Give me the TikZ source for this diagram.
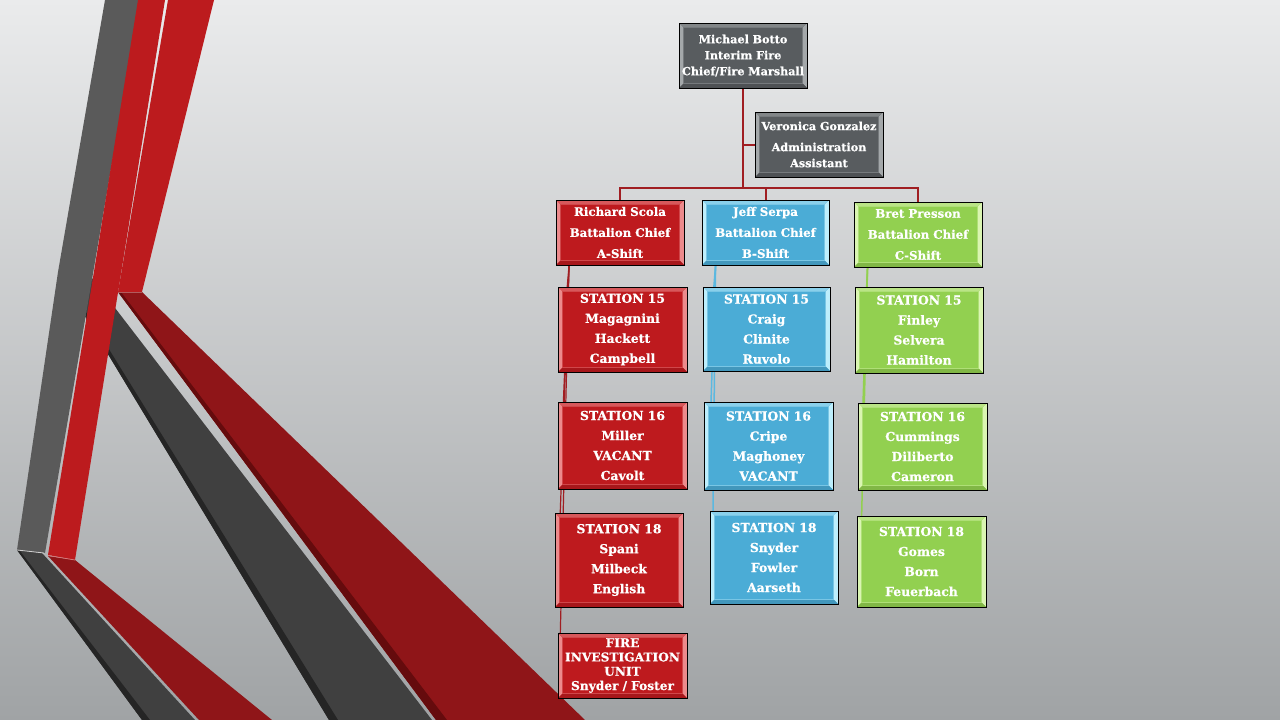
\documentclass[tikz,border=0pt]{standalone}
\usepackage{fontspec}
\setmainfont{DejaVu Serif}
\newfontfamily\heavyfont[FakeBold=0.6]{DejaVu Serif}
\definecolor{bgtop}{HTML}{EAEBEC}
\definecolor{bgbot}{HTML}{A0A3A5}
\definecolor{ribgrey}{HTML}{5A5A5A}
\definecolor{ribdark}{HTML}{404040}
\definecolor{ribshadow}{HTML}{252525}
\definecolor{ribred}{HTML}{BC1B1E}
\definecolor{ribdred}{HTML}{8F1518}
\definecolor{ribdshadow}{HTML}{650B0D}
\definecolor{boxgrey}{HTML}{585C5F}
\definecolor{boxgreyhi}{HTML}{A4A8AA}
\definecolor{boxred}{HTML}{BE1A1E}
\definecolor{boxredhi}{HTML}{EC8A8C}
\definecolor{boxblue}{HTML}{4BACD6}
\definecolor{boxbluehi}{HTML}{BDEEFC}
\definecolor{boxgreen}{HTML}{92D050}
\definecolor{boxgreenhi}{HTML}{DAF5B2}
\definecolor{linered}{HTML}{A01E22}
\definecolor{lineblue}{HTML}{5BB8E0}
\definecolor{linegreen}{HTML}{92D050}
\pgfdeclarelayer{back}
\pgfdeclarelayer{conn}
\pgfsetlayers{back,conn,main}
\tikzset{
  orgbox/.style 2 args={draw=black, line width=0.9pt, inner sep=0pt, text=white, align=center, fill=#1,
    path picture={
      \fill[#2] (path picture bounding box.north west) -- (path picture bounding box.south west)
        -- ([shift={(4.5pt,4.5pt)}]path picture bounding box.south west)
        -- ([shift={(4.5pt,-4.5pt)}]path picture bounding box.north west) -- cycle;
      \fill[#2] (path picture bounding box.north east) -- (path picture bounding box.south east)
        -- ([shift={(-4.5pt,4.5pt)}]path picture bounding box.south east)
        -- ([shift={(-4.5pt,-4.5pt)}]path picture bounding box.north east) -- cycle;
      \fill[#2!55!#1] (path picture bounding box.north west) -- (path picture bounding box.north east)
        -- ([shift={(-4.5pt,-4.5pt)}]path picture bounding box.north east)
        -- ([shift={(4.5pt,-4.5pt)}]path picture bounding box.north west) -- cycle;
      \fill[#1!88!black] (path picture bounding box.south west) -- (path picture bounding box.south east)
        -- ([shift={(-4.5pt,4.5pt)}]path picture bounding box.south east)
        -- ([shift={(4.5pt,4.5pt)}]path picture bounding box.south west) -- cycle;
      \draw[#2!40!#1, line width=0.5pt]
        ([shift={(4.5pt,-4.5pt)}]path picture bounding box.north west) rectangle
        ([shift={(-4.5pt,4.5pt)}]path picture bounding box.south east);}},
  greybox/.style={orgbox={boxgrey}{boxgreyhi}},
  redbox/.style={orgbox={boxred}{boxredhi}},
  bluebox/.style={orgbox={boxblue}{boxbluehi}},
  greenbox/.style={orgbox={boxgreen}{boxgreenhi}},
  sz/.style 2 args={text width=#1pt, minimum height=#2pt},
  fbot/.style={font=\fontsize{11.2}{16}\selectfont\heavyfont\bfseries},
  fbat/.style={font=\fontsize{11.8}{21}\selectfont\heavyfont\bfseries},
  fst/.style={font=\fontsize{12.4}{20}\selectfont\heavyfont\bfseries},
  ffiu/.style={font=\fontsize{12.2}{14.3}\selectfont\heavyfont\bfseries},
  bus/.style={draw=linered, line width=2pt},
  redline/.style={draw=linered, line width=1.2pt},
  blueline/.style={draw=lineblue, line width=1.5pt},
  greenline/.style={draw=linegreen, line width=1.5pt},
}
\begin{document}
\begin{tikzpicture}[x=1pt, y=-1pt]
\useasboundingbox (0,0) rectangle (1280,720);
\begin{pgfonlayer}{back}
  \fill[top color=bgtop, bottom color=bgbot] (0,0) rectangle (1280,720);
  \begin{scope}
    \clip (0,0) rectangle (1280,720);
    % middle dark grey band
    \fill[ribdark] (62,278) -- (92,278) -- (432,720) -- (329,720) -- cycle;
    \fill[ribshadow] (62,278) -- (65,278) -- (338,720) -- (329,720) -- cycle;
    % dark red diagonal band
    \fill[ribdred] (118,292) -- (142,292) -- (585,720) -- (436,720) -- cycle;
    \fill[ribdshadow] (118,292) -- (121,292) -- (447,720) -- (436,720) -- cycle;
    % lower left dark grey band
    \fill[ribdark] (17,550) -- (42,553) -- (195,720) -- (142,720) -- cycle;
    \fill[ribshadow] (17,550) -- (20,551) -- (150,720) -- (142,720) -- cycle;
    % lower left dark red band
    \fill[ribdred] (48,556) -- (75,560) -- (272,720) -- (199,720) -- cycle;
    % upper red strip (fold of the diagonal)
    \fill[ribred] (168,0) -- (214,0) -- (142,292) -- (118,292) -- cycle;
    % light grey vertical ribbon
    \fill[ribgrey] (105,0) -- (140,0) -- (45,553) -- (17,550) -- (58,272) -- cycle;
    % red vertical ribbon
    \fill[ribred] (138,0) -- (165,0) -- (75,560) -- (48,555) -- cycle;
    % fold highlights
    \draw[white!70!ribgrey, line width=0.8pt] (17,550) -- (44,553);
    \draw[ribred!60!white, line width=0.8pt] (48,555.5) -- (75,560);
    \draw[ribdred!70!white, line width=0.6pt] (118,292) -- (142,292);
  \end{scope}
\end{pgfonlayer}

% boxes
\node[greybox, sz={128}{65}, fbot] (botto) at (743,55.5) {Michael Botto\\Interim Fire\\Chief/Fire Marshall};
\node[greybox, sz={128}{65}, fbot] (vero) at (819,144.5) {Veronica Gonzalez\\[5pt]Administration\\Assistant};
\node[redbox, sz={128}{65}, fbat] (scola) at (620,232.5) {Richard Scola\\Battalion Chief\\A-Shift};
\node[bluebox, sz={127}{65}, fbat] (serpa) at (765.5,232.5) {Jeff Serpa\\Battalion Chief\\B-Shift};
\node[greenbox, sz={128}{65}, fbat] (presson) at (918,234.5) {Bret Presson\\Battalion Chief\\C-Shift};

\node[redbox, sz={129}{85}, fst] (st15r) at (622.5,329.5) {STATION 15\\Magagnini\\Hackett\\Campbell};
\node[bluebox, sz={127}{84}, fst] (st15b) at (766.5,329) {STATION 15\\Craig\\Clinite\\Ruvolo};
\node[greenbox, sz={128}{86}, fst] (st15g) at (919,330) {STATION 15\\Finley\\Selvera\\Hamilton};

\node[redbox, sz={129}{87}, fst] (st16r) at (622.5,445.5) {STATION 16\\Miller\\VACANT\\Cavolt};
\node[bluebox, sz={129}{88}, fst] (st16b) at (768.5,446) {STATION 16\\Cripe\\Maghoney\\VACANT};
\node[greenbox, sz={129}{87}, fst] (st16g) at (922.5,446.5) {STATION 16\\Cummings\\Diliberto\\Cameron};

\node[redbox, sz={128}{94}, fst] (st18r) at (619,560) {STATION 18\\Spani\\Milbeck\\English};
\node[bluebox, sz={128}{93}, fst] (st18b) at (774,557.5) {STATION 18\\Snyder\\Fowler\\Aarseth};
\node[greenbox, sz={129}{91}, fst] (st18g) at (921.5,561.5) {STATION 18\\Gomes\\Born\\Feuerbach};

\node[redbox, sz={129}{65}, ffiu] (fiu) at (622.5,665.5) {FIRE\\INVESTIGATION\\UNIT\\Snyder / Foster};

% connectors
\begin{pgfonlayer}{conn}
  \coordinate (busy) at (0,188);
  \draw[bus] (botto.south) -- (botto.south |- busy);
  \draw[bus] (botto.south |- vero.west) -- (vero.west);
  \draw[bus] (scola.north) -- (scola.north |- busy) -- (presson.north |- busy) -- (presson.north);
  \draw[bus] (serpa.north) -- (serpa.north |- busy);

  \coordinate (ra) at ([xshift=13.5pt]scola.south west);
  \foreach \t/\d in {st15r/6, st16r/4, st18r/4, fiu/2}
    \draw[redline] (ra) -- ([xshift=\d pt]\t.west);
  \coordinate (ba) at ([xshift=14pt]serpa.south west);
  \foreach \t/\d in {st15b/8, st16b/6, st18b/3}
    \draw[blueline] (ba) -- ([xshift=\d pt]\t.west);
  \coordinate (ga) at ([xshift=14pt]presson.south west);
  \foreach \t/\d in {st15g/10, st16g/4, st18g/4}
    \draw[greenline] (ga) -- ([xshift=\d pt]\t.west);
\end{pgfonlayer}
\end{tikzpicture}
\end{document}
